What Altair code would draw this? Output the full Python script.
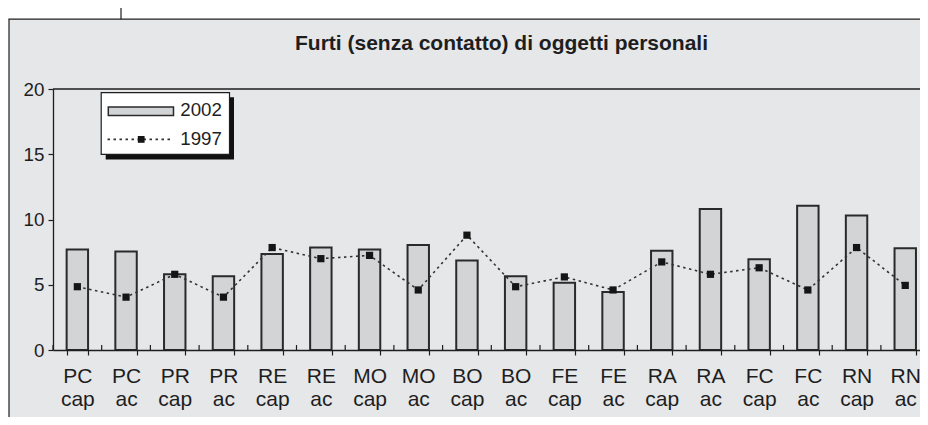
import altair as alt
import pandas as pd

# ---- data ----
REGIONS = ["PC", "PC", "PR", "PR", "RE", "RE", "MO", "MO", "BO", "BO",
           "FE", "FE", "RA", "RA", "FC", "FC", "RN", "RN"]
KINDS = ["cap", "ac"] * 9
V2002 = [7.7, 7.55, 5.8, 5.65, 7.35, 7.85, 7.7, 8.05, 6.85, 5.65,
         5.15, 4.45, 7.6, 10.8, 6.95, 11.05, 10.3, 7.8]
V1997 = [4.85, 4.05, 5.8, 4.05, 7.85, 7.0, 7.25, 4.6, 8.8, 4.85,
         5.6, 4.6, 6.75, 5.8, 6.3, 4.6, 7.85, 4.95]
SERIES = ["2002", "1997"]
Y_TICKS = [0, 5, 10, 15, 20]
TITLE = "Furti (senza contatto) di oggetti personali"

cats = [f"{r} {k}" for r, k in zip(REGIONS, KINDS)]
df = pd.DataFrame({"cat": cats, "v2002": V2002, "v1997": V1997})
one = pd.DataFrame({"k": [0]})

FONT = "Liberation Sans"
BG = "#e6e7e9"
BAR = "#d3d4d6"
INK = "#1e1e1e"
W, H = 867, 261
RANGE_END = 876.6

x_enc = alt.X(
    "cat:N", sort=cats,
    scale=alt.Scale(range=[0, RANGE_END], paddingInner=0.56, paddingOuter=0.28),
    axis=alt.Axis(title=None, labelAngle=0, labelExpr="split(datum.label, ' ')",
                  tickBand="extent", tickSize=5, tickColor=INK, tickWidth=1.2,
                  domainColor=INK, domainWidth=1.3, labelFont=FONT,
                  labelFontSize=21, labelColor=INK, labelPadding=10,
                  labelLineHeight=23.5, labelBaseline="top", zindex=1),
)
y_scale = alt.Scale(domain=[0, 20], nice=False, zero=True)
y_axis = alt.Axis(title=None, values=Y_TICKS, grid=False, tickSize=5,
                  tickColor=INK, tickWidth=1.2, domainColor=INK, domainWidth=1.3,
                  labelFont=FONT, labelFontSize=18.8, labelColor=INK,
                  labelPadding=4, zindex=1)

# ---- outer frame: white margin strips over a grey background ----
white_top = alt.Chart(one).mark_rect(fill="white").encode(
    x=alt.value(-60), x2=alt.value(W + 20), y=alt.value(-90), y2=alt.value(-69.8))
white_left = alt.Chart(one).mark_rect(fill="white").encode(
    x=alt.value(-60), x2=alt.value(-44), y=alt.value(-90), y2=alt.value(H + 80))
frame_top = alt.Chart(one).mark_rule(color=INK, strokeWidth=1.2).encode(
    x=alt.value(-44.6), x2=alt.value(W + 20), y=alt.value(-69.8))
frame_left = alt.Chart(one).mark_rule(color=INK, strokeWidth=1.2).encode(
    x=alt.value(-44), y=alt.value(-69.8), y2=alt.value(H + 80))
deco = alt.Chart(one).mark_rule(color=INK, strokeWidth=1.2).encode(
    x=alt.value(68), y=alt.value(-81), y2=alt.value(-69.8))
top_rule = alt.Chart(one).mark_rule(color=INK, strokeWidth=1.3).encode(
    x=alt.value(0), x2=alt.value(W + 20), y=alt.value(0))

bars = alt.Chart(df).mark_bar(fill=BAR, stroke="#2a2a2a", strokeWidth=2).encode(
    x=x_enc, y=alt.Y("v2002:Q", scale=y_scale, axis=y_axis))
inner_ticks = alt.Chart(df).mark_rule(color=INK, strokeWidth=1.2, xOffset=-24.35).encode(
    x=alt.X("cat:N", sort=cats), y=alt.value(H - 5), y2=alt.value(H))
line = alt.Chart(df).mark_line(color="#333333", strokeWidth=1.6, strokeDash=[2.5, 3.5]).encode(
    x=alt.X("cat:N", sort=cats), y=alt.Y("v1997:Q", scale=y_scale, axis=y_axis))
pts = alt.Chart(df).mark_square(size=52, color="#151515", opacity=1).encode(
    x=alt.X("cat:N", sort=cats), y=alt.Y("v1997:Q", scale=y_scale, axis=y_axis))

title = alt.Chart(one).mark_text(text=TITLE, font=FONT, fontSize=21, fontWeight="bold",
                                 color=INK, align="center", baseline="alphabetic").encode(
    x=alt.value(448.5), y=alt.value(-39.3))

# ---- hand-made legend (box with drop shadow) ----
shadow = alt.Chart(one).mark_rect(fill="#111111").encode(
    x=alt.value(52.7), x2=alt.value(181), y=alt.value(8.2), y2=alt.value(70.4))
box = alt.Chart(one).mark_rect(fill="white", stroke=INK, strokeWidth=1.2).encode(
    x=alt.value(48.2), x2=alt.value(176.5), y=alt.value(3.7), y2=alt.value(65.4))
swatch = alt.Chart(one).mark_rect(fill=BAR, stroke="#2a2a2a", strokeWidth=1.5).encode(
    x=alt.value(55.3), x2=alt.value(120.5), y=alt.value(18), y2=alt.value(26.4))
lg_line = alt.Chart(one).mark_rule(color="#333333", strokeWidth=1.6, strokeDash=[2.5, 3.5]).encode(
    x=alt.value(54.5), x2=alt.value(120.5), y=alt.value(50.4))
lg_pt = alt.Chart(one).mark_square(size=46, color="#151515", opacity=1).encode(
    x=alt.value(88.2), y=alt.value(50.4))
lg_t1 = alt.Chart(one).mark_text(text=SERIES[0], font=FONT, fontSize=18.7, color=INK,
                                 align="left", baseline="alphabetic").encode(
    x=alt.value(127.3), y=alt.value(27))
lg_t2 = alt.Chart(one).mark_text(text=SERIES[1], font=FONT, fontSize=18.7, color=INK,
                                 align="left", baseline="alphabetic").encode(
    x=alt.value(127.3), y=alt.value(56))

chart = alt.layer(
    white_top, white_left, frame_top, frame_left, deco, top_rule,
    bars, inner_ticks, line, pts, title,
    shadow, box, swatch, lg_line, lg_pt, lg_t1, lg_t2,
).resolve_scale(y="shared").properties(
    width=W, height=H,
    padding={"left": 45, "top": 81, "right": 0, "bottom": 67},
    autosize=alt.AutoSizeParams(type="none"),
    background=BG,
).configure_view(stroke=None)

chart.save("out.html", embed_options={"renderer": "svg", "actions": False})
